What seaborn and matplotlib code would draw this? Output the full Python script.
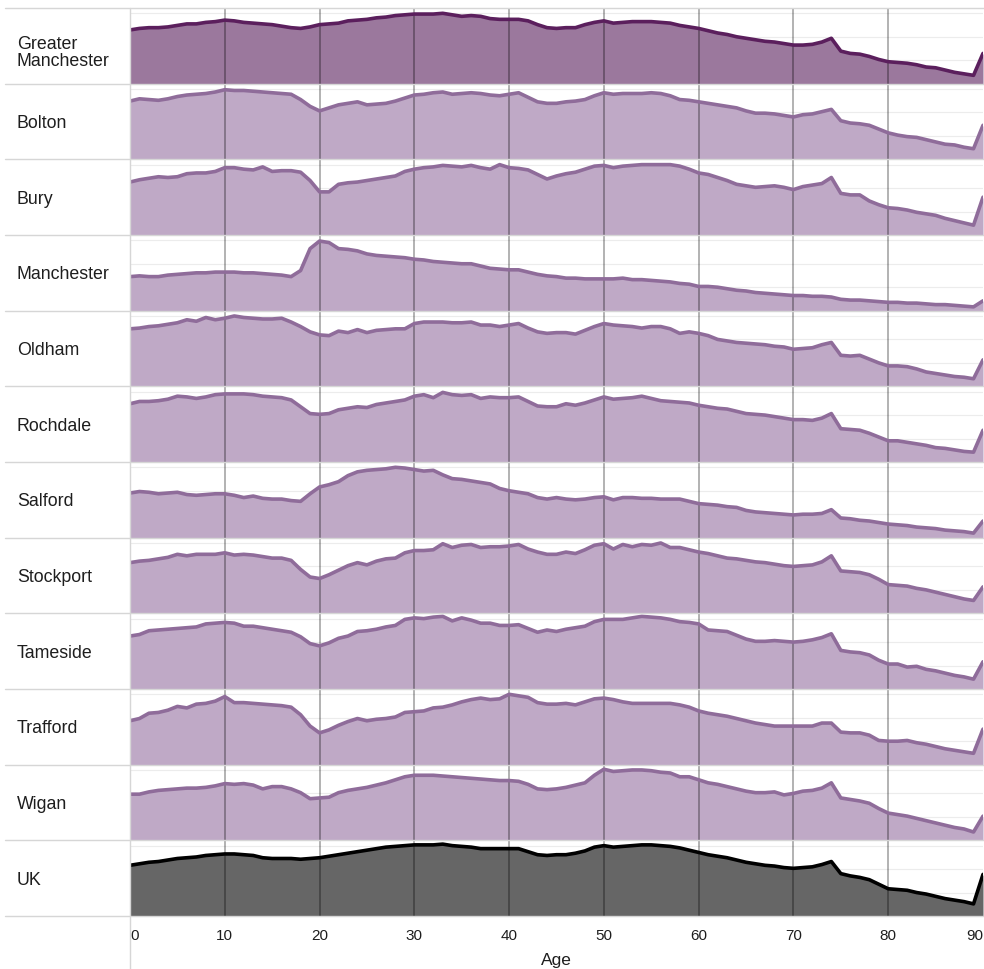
"""
Small-multiple area chart: age profile of population, Greater Manchester
districts compared with the UK. Each row has its own value scale, so the
values below are a share index (100 = top of that row's axis).
"""

import matplotlib
matplotlib.use("Agg")
import matplotlib.pyplot as plt
from matplotlib.lines import Line2D
import pandas as pd
import seaborn as sns

# ---------------------------------------------------------------- data
ages = list(range(0, 91))
tick_ages = [0, 10, 20, 30, 40, 50, 60, 70, 80, 90]
areas = ["Greater\nManchester", "Bolton", "Bury", "Manchester", "Oldham",
         "Rochdale", "Salford", "Stockport", "Tameside", "Trafford",
         "Wigan", "UK"]

greater_manchester = [
    71, 73, 74, 74, 75, 77, 79, 79, 81, 82,
    84, 83, 81, 80, 79, 78, 76, 74, 73, 75,
    78, 79, 80, 83, 84, 85, 87, 88, 90, 91,
    92, 92, 92, 93, 91, 89, 90, 89, 86, 85,
    85, 85, 83, 78, 74, 73, 74, 74, 78, 81,
    83, 80, 81, 82, 82, 82, 81, 80, 77, 75,
    73, 70, 67, 65, 62, 60, 58, 56, 55, 53,
    51, 51, 52, 55, 60, 43, 40, 39, 36, 32,
    29, 28, 27, 25, 22, 21, 18, 15, 13, 11, 40]
bolton = [
    77, 80, 79, 78, 80, 83, 85, 86, 87, 89,
    92, 91, 91, 90, 89, 88, 87, 86, 79, 70,
    64, 68, 72, 74, 76, 72, 73, 74, 77, 81,
    85, 86, 88, 89, 86, 87, 88, 87, 85, 84,
    86, 88, 82, 76, 74, 74, 76, 77, 79, 84,
    88, 86, 87, 87, 87, 88, 87, 84, 79, 78,
    76, 74, 72, 70, 68, 64, 61, 61, 60, 58,
    56, 59, 60, 63, 66, 51, 48, 47, 45, 40,
    35, 32, 30, 29, 26, 23, 20, 19, 16, 14, 45]
bury = [
    70, 73, 75, 77, 76, 77, 81, 82, 82, 84,
    89, 89, 87, 86, 90, 84, 85, 85, 83, 72,
    57, 57, 67, 69, 70, 72, 74, 76, 78, 84,
    87, 89, 90, 92, 91, 90, 92, 89, 87, 93,
    89, 88, 86, 80, 74, 78, 81, 83, 87, 91,
    92, 89, 91, 92, 93, 93, 93, 93, 91, 87,
    82, 80, 76, 72, 67, 65, 63, 64, 65, 63,
    60, 64, 66, 68, 76, 55, 53, 53, 45, 40,
    36, 35, 33, 30, 28, 26, 22, 19, 16, 13, 50]
manchester = [
    45, 46, 45, 45, 47, 48, 49, 50, 50, 51,
    51, 51, 50, 50, 49, 48, 47, 45, 53, 82,
    92, 90, 82, 81, 79, 75, 73, 72, 71, 70,
    68, 67, 65, 64, 63, 62, 62, 59, 56, 55,
    54, 54, 51, 48, 46, 45, 43, 43, 42, 42,
    42, 42, 43, 41, 41, 40, 39, 38, 36, 35,
    32, 32, 31, 29, 27, 26, 24, 23, 22, 21,
    20, 20, 19, 19, 18, 15, 14, 14, 13, 12,
    11, 11, 10, 10, 9, 8, 8, 7, 6, 5, 13]
oldham = [
    76, 77, 79, 80, 82, 84, 88, 86, 91, 88,
    90, 93, 91, 90, 89, 89, 90, 85, 79, 72,
    68, 67, 73, 71, 75, 71, 74, 75, 76, 76,
    83, 85, 85, 85, 84, 84, 85, 81, 81, 79,
    81, 83, 77, 72, 70, 71, 71, 69, 74, 79,
    83, 81, 80, 79, 77, 79, 79, 76, 70, 72,
    70, 67, 62, 60, 58, 57, 56, 55, 53, 52,
    49, 50, 51, 55, 58, 41, 40, 41, 36, 31,
    27, 27, 26, 23, 19, 17, 15, 13, 12, 10, 35]
rochdale = [
    77, 80, 80, 81, 83, 87, 86, 84, 86, 89,
    90, 90, 90, 89, 87, 86, 85, 82, 73, 64,
    63, 64, 69, 71, 73, 72, 76, 78, 80, 82,
    87, 89, 85, 92, 89, 88, 89, 84, 86, 85,
    85, 86, 80, 74, 73, 73, 77, 75, 78, 82,
    86, 83, 84, 85, 87, 84, 81, 80, 79, 78,
    75, 73, 71, 70, 67, 64, 63, 62, 60, 58,
    56, 56, 55, 58, 64, 44, 43, 42, 38, 33,
    28, 28, 26, 24, 22, 19, 18, 16, 14, 13, 42]
salford = [
    59, 61, 60, 58, 59, 60, 57, 56, 57, 58,
    58, 56, 53, 55, 52, 51, 51, 49, 48, 58,
    67, 70, 74, 82, 87, 89, 90, 91, 93, 92,
    90, 88, 89, 83, 78, 77, 75, 73, 71, 65,
    62, 60, 58, 53, 51, 53, 51, 50, 51, 53,
    54, 50, 53, 53, 52, 52, 51, 51, 51, 48,
    45, 44, 43, 41, 40, 36, 34, 33, 32, 31,
    30, 31, 31, 32, 37, 26, 25, 23, 22, 20,
    18, 17, 16, 14, 13, 12, 10, 9, 8, 6, 22]
stockport = [
    67, 69, 70, 72, 74, 78, 76, 78, 78, 78,
    80, 77, 78, 77, 75, 73, 73, 70, 58, 48,
    46, 51, 57, 63, 67, 64, 69, 72, 73, 80,
    83, 83, 84, 92, 87, 90, 91, 87, 88, 88,
    89, 91, 85, 81, 78, 78, 81, 79, 84, 90,
    92, 85, 91, 88, 91, 90, 93, 87, 87, 84,
    81, 79, 76, 73, 72, 70, 68, 67, 65, 63,
    62, 63, 64, 68, 76, 56, 55, 54, 51, 45,
    38, 37, 36, 33, 31, 28, 25, 22, 19, 17, 35]
tameside = [
    70, 72, 77, 78, 79, 80, 81, 82, 86, 87,
    88, 87, 83, 83, 81, 79, 77, 75, 69, 60,
    57, 61, 67, 70, 76, 77, 79, 82, 84, 92,
    94, 93, 95, 96, 90, 94, 91, 87, 87, 84,
    84, 85, 80, 75, 78, 76, 79, 81, 83, 89,
    92, 92, 92, 94, 96, 95, 94, 92, 89, 88,
    86, 78, 77, 76, 71, 66, 63, 63, 64, 63,
    62, 63, 65, 68, 73, 51, 49, 48, 45, 38,
    33, 33, 29, 30, 26, 24, 21, 18, 16, 13, 36]
trafford = [
    58, 61, 68, 69, 72, 77, 75, 80, 81, 84,
    90, 82, 82, 81, 80, 79, 78, 76, 66, 51,
    42, 46, 52, 57, 61, 58, 60, 61, 63, 69,
    70, 71, 75, 76, 79, 83, 86, 88, 86, 87,
    93, 91, 89, 82, 80, 80, 81, 79, 83, 87,
    88, 86, 83, 81, 81, 81, 81, 81, 79, 76,
    71, 68, 66, 64, 61, 58, 55, 53, 51, 51,
    51, 51, 51, 55, 55, 43, 42, 42, 39, 32,
    31, 31, 32, 29, 27, 24, 21, 19, 17, 15, 47]
wigan = [
    61, 61, 64, 66, 67, 68, 69, 69, 70, 72,
    75, 74, 75, 73, 68, 71, 71, 68, 63, 55,
    56, 57, 63, 66, 68, 70, 73, 76, 80, 84,
    86, 86, 86, 85, 84, 83, 82, 81, 80, 79,
    79, 78, 74, 68, 67, 68, 70, 73, 76, 86,
    94, 91, 92, 93, 93, 92, 90, 89, 84, 84,
    80, 76, 74, 71, 68, 65, 63, 63, 64, 60,
    62, 65, 66, 69, 76, 56, 54, 52, 49, 42,
    36, 34, 32, 29, 26, 23, 20, 17, 15, 11, 32]
uk = [
    67, 69, 71, 72, 74, 76, 77, 78, 80, 81,
    82, 82, 81, 80, 77, 76, 76, 76, 75, 76,
    77, 79, 81, 83, 85, 87, 89, 91, 92, 93,
    94, 94, 94, 95, 93, 92, 91, 89, 89, 89,
    89, 89, 85, 81, 80, 81, 81, 83, 86, 91,
    93, 91, 92, 93, 94, 94, 93, 92, 90, 87,
    84, 81, 79, 77, 74, 71, 69, 67, 66, 64,
    63, 64, 65, 68, 72, 56, 53, 51, 48, 42,
    36, 35, 34, 31, 29, 26, 23, 21, 19, 16, 55]

series = [greater_manchester, bolton, bury, manchester, oldham, rochdale,
          salford, stockport, tameside, trafford, wigan, uk]

# ---------------------------------------------------------------- style
sns.set_theme(style="white")
plt.rcParams["font.family"] = ["Liberation Sans", "DejaVu Sans"]

W, H = 984, 969
TOP, BOTTOM, LEFT = 8, 916, 130
TEXT = "#1e1e1e"
SEP = "#d6d6d6"


def colours(name):
    if name == "UK":
        return "#000000", "#666666"
    if name.startswith("Greater"):
        return "#5b1f5d", "#9b789d"
    return "#8f6c9a", "#bfa9c6"


fig, axes = plt.subplots(len(areas), 1, figsize=(W / 100, H / 100), dpi=100, sharex=True)
fig.subplots_adjust(left=LEFT / W, right=983 / W, top=1 - TOP / H,
                    bottom=1 - BOTTOM / H, hspace=0)

for ax, name, vals in zip(axes, areas, series):
    line_c, fill_c = colours(name)
    df = pd.DataFrame({"age": ages, "share": vals})

    for g in (31, 62, 93):
        ax.axhline(g, color="#ececec", lw=0.8, zorder=0)
    ax.fill_between(df["age"], df["share"], color=fill_c, lw=0, zorder=1)
    for a in tick_ages[1:-1]:
        ax.axvline(a, color="black", alpha=0.38, lw=1.1, zorder=2)
    sns.lineplot(data=df, x="age", y="share", ax=ax, color=line_c, lw=2.6, zorder=3)

    ax.set_xlim(0, 90)
    ax.set_ylim(0, 100)
    ax.set_xlabel("")
    ax.set_ylabel("")
    ax.set_yticks([])
    for s in ax.spines.values():
        s.set_visible(False)
    ax.tick_params(length=0)

    # the two-line label sits a little below the row centre in the original
    pos = ax.get_position()
    shift = 7 / H if "\n" in name else 2 / H
    fig.text(17 / W, (pos.y0 + pos.y1) / 2 - shift, name, ha="left", va="center",
             fontsize=12.8, color=TEXT, linespacing=0.95)

# bottom axis
ax = axes[-1]
ax.set_xticks(tick_ages)
ax.set_xticklabels([str(a) for a in tick_ages])
ax.tick_params(axis="x", pad=9, labelsize=11, labelcolor=TEXT)
labels = ax.get_xticklabels()
labels[0].set_ha("left")
labels[-1].set_ha("right")
fig.text((LEFT + 983) / 2 / W, 1 - 960 / H, "Age", ha="center", va="center",
         fontsize=12.5, color=TEXT)

# row separators and the left frame line
row_h = (BOTTOM - TOP) / len(areas)
for i in range(len(areas) + 1):
    y = 1 - (TOP + i * row_h) / H
    fig.add_artist(Line2D([0.005, 1], [y, y], transform=fig.transFigure, color=SEP, lw=1))
fig.add_artist(Line2D([LEFT / W, LEFT / W], [0, 1 - TOP / H], transform=fig.transFigure,
                      color=SEP, lw=1))

fig.savefig("out.png", dpi=100)
plt.close(fig)
